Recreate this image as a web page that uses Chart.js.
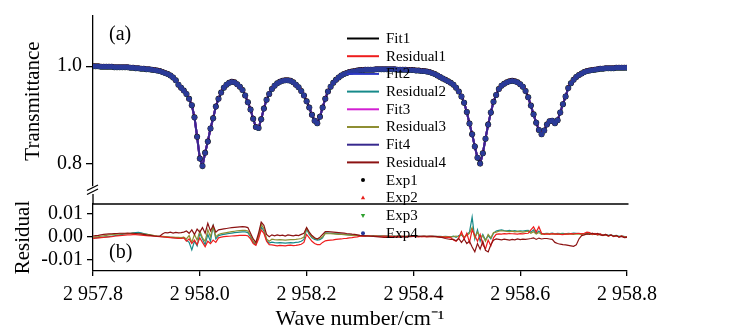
<!DOCTYPE html>
<html>
<head>
<meta charset="utf-8">
<script src="https://cdn.jsdelivr.net/npm/chart.js@4/dist/chart.umd.min.js"></script>
<style>
html,body{margin:0;padding:0;background:#fff;}
#wrap{position:relative;width:738px;height:332px;background:#fff;}
#wrap canvas{position:absolute;left:0;top:0;}
</style>
</head>
<body>
<div id="wrap">
<canvas id="residChart" width="738" height="332"></canvas>
<canvas id="transChart" width="738" height="332"></canvas>
</div>
<script>
// ---------------- DATA ----------------
const waveNumbers = [
2957.8,2957.805,2957.81,2957.815,2957.82,2957.825,2957.83,2957.835,2957.84,2957.845,
2957.85,2957.855,2957.86,2957.865,2957.87,2957.875,2957.88,2957.885,2957.89,2957.895,
2957.9,2957.905,2957.91,2957.915,2957.92,2957.925,2957.93,2957.935,2957.94,2957.945,
2957.95,2957.955,2957.96,2957.965,2957.97,2957.975,2957.98,2957.985,2957.99,2957.995,
2958,2958.005,2958.01,2958.015,2958.02,2958.025,2958.03,2958.035,2958.04,2958.045,
2958.05,2958.055,2958.06,2958.065,2958.07,2958.075,2958.08,2958.085,2958.09,2958.095,
2958.1,2958.105,2958.11,2958.115,2958.12,2958.125,2958.13,2958.135,2958.14,2958.145,
2958.15,2958.155,2958.16,2958.165,2958.17,2958.175,2958.18,2958.185,2958.19,2958.195,
2958.2,2958.205,2958.21,2958.215,2958.22,2958.225,2958.23,2958.235,2958.24,2958.245,
2958.25,2958.255,2958.26,2958.265,2958.27,2958.275,2958.28,2958.285,2958.29,2958.295,
2958.3,2958.305,2958.31,2958.315,2958.32,2958.325,2958.33,2958.335,2958.34,2958.345,
2958.35,2958.355,2958.36,2958.365,2958.37,2958.375,2958.38,2958.385,2958.39,2958.395,
2958.4,2958.405,2958.41,2958.415,2958.42,2958.425,2958.43,2958.435,2958.44,2958.445,
2958.45,2958.455,2958.46,2958.465,2958.47,2958.475,2958.48,2958.485,2958.49,2958.495,
2958.5,2958.505,2958.51,2958.515,2958.52,2958.525,2958.53,2958.535,2958.54,2958.545,
2958.55,2958.555,2958.56,2958.565,2958.57,2958.575,2958.58,2958.585,2958.59,2958.595,
2958.6,2958.605,2958.61,2958.615,2958.62,2958.625,2958.63,2958.635,2958.64,2958.645,
2958.65,2958.655,2958.66,2958.665,2958.67,2958.675,2958.68,2958.685,2958.69,2958.695,
2958.7,2958.705,2958.71,2958.715,2958.72,2958.725,2958.73,2958.735,2958.74,2958.745,
2958.75,2958.755,2958.76,2958.765,2958.77,2958.775,2958.78,2958.785,2958.79,2958.795,
2958.8];

// measured transmittance (Exp1..Exp4 and Fit1..Fit4 coincide at this scale)
const transmittance = [
1.000,1.000,1.000,0.999,0.999,0.999,0.999,0.999,0.998,0.998,
0.998,0.998,0.998,0.998,0.997,0.997,0.996,0.996,0.995,0.995,
0.994,0.994,0.993,0.992,0.991,0.990,0.988,0.986,0.984,0.981,
0.977,0.971,0.962,0.956,0.950,0.943,0.933,0.920,0.895,0.855,
0.810,0.795,0.822,0.845,0.872,0.893,0.917,0.933,0.946,0.956,
0.962,0.966,0.968,0.967,0.963,0.958,0.951,0.940,0.926,0.911,
0.892,0.875,0.873,0.891,0.913,0.931,0.943,0.953,0.960,0.965,
0.968,0.970,0.971,0.971,0.970,0.967,0.962,0.957,0.949,0.940,
0.928,0.915,0.900,0.888,0.883,0.896,0.915,0.933,0.948,0.958,
0.966,0.972,0.977,0.981,0.984,0.986,0.988,0.989,0.990,0.991,
0.992,0.992,0.993,0.993,0.993,0.993,0.994,0.994,0.994,0.994,
0.994,0.994,0.994,0.994,0.993,0.993,0.993,0.993,0.992,0.992,
0.992,0.991,0.991,0.990,0.990,0.989,0.988,0.986,0.984,0.981,
0.978,0.975,0.972,0.969,0.966,0.962,0.956,0.948,0.938,0.925,
0.906,0.882,0.860,0.835,0.812,0.800,0.821,0.851,0.880,0.905,
0.927,0.941,0.953,0.960,0.964,0.967,0.969,0.970,0.969,0.967,
0.963,0.958,0.949,0.936,0.919,0.901,0.884,0.869,0.860,0.868,
0.880,0.887,0.888,0.883,0.889,0.905,0.922,0.938,0.955,0.965,
0.972,0.978,0.982,0.985,0.988,0.990,0.991,0.992,0.993,0.994,
0.995,0.995,0.996,0.996,0.996,0.996,0.997,0.997,0.997,0.997,
0.997];

const residual1 = [
-0.0007,-0.0006,-0.0005,-0.0004,-0.0003,-0.0002,-0.0001,
0,0.0002,0.0004,0.0005,0.0006,0.0007,0.0008,0.0008,0.0009,
0.0009,0.0008,0.0007,0.0006,0.0005,0.0004,0.0003,0.0002,0.0001,
0,-0.0001,-0.0002,-0.0003,-0.0004,-0.0005,-0.0006,-0.0007,-0.0008,
-0.0005,-0.002,-0.001,-0.003,-0.0015,-0.0035,-0.0005,-0.0025,-0.0044,-0.002,-0.003,
-0.0015,-0.0025,-0.0005,
-0.0002,0,0.0001,0.0002,0.0003,0.0004,0.0005,0.0006,0.0006,0.0006,
0.0004,-0.001,-0.003,-0.0038,
-0.001,0.003,0.0015,-0.002,-0.0035,
-0.0036,-0.0038,-0.004,-0.0038,-0.0039,-0.004,-0.0038,-0.0037,-0.0039,-0.0038,-0.0036,-0.0033,-0.0025,
0.001,-0.0005,-0.002,
-0.003,-0.0035,-0.0035,-0.0025,
-0.0018,-0.0016,-0.0015,-0.0014,-0.0012,-0.0011,-0.001,-0.0008,-0.0007,-0.0005,-0.0004,-0.0002,-0.0001,
0.0002,0.0003,0.0002,0.0004,0.0003,0.0002,0.0003,0.0001,0.0002,0.0003,0.0002,0.0001,0.0002,0,0.0001,0.0002,0.0001,0,0.0001,0.0002,0.0001,0,-0.0001,0.0001,0,-0.0001,0,0.0001,0,-0.0001,-0.0002,-0.0001,-0.0003,-0.0002,-0.0004,
-0.0015,-0.002,-0.0005,0.0022,-0.001,0.0015,-0.0025,0.003,0.0005,-0.002,0.001,-0.0035,-0.0053,-0.0015,-0.004,-0.0005,
0.001,0.0012,0.0011,0.0013,0.0012,0.0014,0.0013,0.0012,0.0011,0.0013,0.0012,0.0014,0.0015,
0.003,0.0043,0.002,0.0044,0.0015,0.001,
0.0012,0.001,0.0013,0.0011,0.0012,0.001,0.0009,0.0012,0.0011,0.0013,0.0012,0.0014,0.0015,
0.0012,0.0015,0.002,0.0018,0.001,0.0014,0.0008,0.0012,0.0005,0.001,0.0003,0.0008,0,0.0005,-0.0002,0.0003,-0.0003,-0.0001];

const residual2 = [
-0.0006,-0.0005,-0.0004,-0.0003,-0.0002,-0.0001,0,
0.0002,0.0004,0.0006,0.0008,0.001,0.0012,0.0013,0.0015,0.0017,
0.0018,0.0019,0.0017,0.0014,0.0011,0.0008,0.0006,0.0004,0.0002,
0.0001,0,-0.0001,-0.0002,-0.0003,-0.0004,-0.0005,-0.0006,-0.0007,
-0.0003,-0.0015,-0.0025,-0.0058,-0.002,-0.004,0.0015,-0.001,-0.0035,0.001,-0.002,
0.0047,-0.001,0.0005,
0.0008,0.001,0.0012,0.0014,0.0016,0.0018,0.0019,0.002,0.0021,0.0021,
0.0018,0,-0.0025,-0.0034,
0,0.0043,0.0025,-0.0015,-0.0028,
-0.0024,-0.0026,-0.0027,-0.0026,-0.0027,-0.0028,-0.0027,-0.0026,-0.0027,-0.0025,-0.0024,-0.002,-0.0012,
0.0033,0.001,-0.0005,
-0.0012,-0.0015,-0.0013,-0.0005,
0.0017,0.0016,0.0015,0.0014,0.0013,0.0012,0.0011,0.001,0.0009,0.0008,0.0007,0.0006,0.0006,
0.0005,0.0004,0.0005,0.0003,0.0004,0.0005,0.0003,0.0004,0.0004,0.0003,0.0004,0.0002,0.0003,0.0003,0.0002,0.0003,0.0002,0.0001,0.0002,0.0003,0.0002,0.0001,0.0002,0.0001,0.0002,0,0.0001,0.0002,0.0001,0,0.0001,0,0.0001,0,-0.0001,
0.0002,-0.0003,0.0005,0.0008,-0.0005,0.001,0.002,0.0086,-0.001,0.003,-0.002,0.001,-0.0015,0.0005,-0.001,0.0015,
0.0025,0.0028,0.003,0.0027,0.0026,0.0028,0.0025,0.0027,0.0024,0.0026,0.0025,0.0027,0.0028,
0.002,0.003,0.0015,0.0025,0.0012,0.0014,
0.0015,0.0014,0.0016,0.0013,0.0015,0.0014,0.0015,0.0013,0.0015,0.0014,0.0016,0.0015,0.0014,
0.0012,0.0014,0.0012,0.0015,0.0011,0.0013,0.0009,0.0011,0.0007,0.0009,0.0006,0.0008,0.0004,0.0006,0.0002,0.0003,0.0001,0];

const residual3 = [
-0.0002,-0.0001,0,0.0002,0.0004,0.0006,0.0008,
0.0009,0.001,0.0011,0.0012,0.0013,0.0013,0.0014,0.0014,0.0015,
0.0014,0.0013,0.0012,0.0011,0.001,0.0009,0.0007,0.0005,0.0003,
0.0002,0.0001,0,-0.0001,-0.0002,-0.0002,-0.0003,-0.0003,-0.0004,
-0.0002,-0.001,0.0005,-0.0025,0.001,-0.0015,0.0025,-0.0005,-0.002,0.003,0,
0.0045,0,0.001,
0.0014,0.0016,0.0018,0.002,0.0022,0.0024,0.0026,0.0027,0.0028,0.0028,
0.0025,0.0005,-0.002,-0.003,
0.0005,0.0055,0.0035,-0.001,-0.002,
-0.0011,-0.0013,-0.0014,-0.0013,-0.0014,-0.0015,-0.0014,-0.0013,-0.0013,-0.0012,-0.001,-0.0008,-0.0002,
0.0038,0.0015,0,
-0.0008,-0.001,-0.0008,0,
0.0014,0.0013,0.0013,0.0012,0.0011,0.001,0.001,0.0009,0.0008,0.0007,0.0006,0.0006,0.0005,
0.0004,0.0004,0.0003,0.0004,0.0003,0.0003,0.0004,0.0002,0.0003,0.0003,0.0002,0.0003,0.0002,0.0002,0.0003,0.0001,0.0002,0.0002,0.0001,0.0002,0.0001,0.0001,0.0002,0,0.0001,0.0001,0,0.0001,0,0.0001,0,-0.0001,0,-0.0001,-0.0001,
0,0.0003,-0.0002,0.001,0,0.0005,0.0015,0.004,-0.0005,0.002,0,0.0005,-0.002,0.001,-0.0005,0.0018,
0.002,0.0024,0.0026,0.0025,0.0023,0.0022,0.0024,0.0021,0.0023,0.0022,0.002,0.0022,0.0024,
0.0015,0.0022,0.0012,0.0018,0.001,0.0012,
0.0012,0.0013,0.0011,0.0012,0.001,0.0012,0.0011,0.001,0.0012,0.0011,0.001,0.0012,0.0011,
0.001,0.0012,0.0011,0.0013,0.0009,0.0011,0.0008,0.001,0.0006,0.0008,0.0004,0.0007,0.0002,0.0005,0,0.0003,-0.0001,-0.0002];

const residual4 = [
0.0003,0.0005,0.0006,0.0008,0.001,0.0011,0.0012,
0.0013,0.0014,0.0014,0.0015,0.0015,0.0015,0.0016,0.0015,0.0015,
0.0014,0.0013,0.0012,0.001,0.0008,0.0007,0.0005,0.0003,0.0002,
0.0002,0.0012,0.0018,0.0017,0.002,0.0016,0.0019,0.0017,0.0018,
0.002,0.0025,0.0015,0.003,0.001,0.0033,0.002,0.004,0.0015,0.0059,0.0025,
0.005,0.002,0.003,
0.0032,0.0034,0.0036,0.0038,0.004,0.0041,0.0042,0.0043,0.0044,0.0043,
0.004,0.0015,-0.001,-0.0025,
0.0015,0.0064,0.005,0.001,0,
0.0008,0.0004,0.0008,0.0005,0.0007,0.0003,0.0008,0.0006,0.0004,0.0007,0.0005,0.001,0.0015,
0.004,0.002,0.0005,
-0.0005,-0.001,-0.0002,0.001,
0.0022,0.0022,0.0021,0.002,0.0019,0.0018,0.0017,0.0016,0.0014,0.0013,0.0011,0.001,0.0008,
0.0006,0.0005,0.0004,0.0003,0.0002,0.0001,0,-0.0001,-0.0002,-0.0003,-0.0003,-0.0002,-0.0003,-0.0002,-0.0001,-0.0002,0,-0.0001,0.0001,0,0.0001,0.0002,0.0001,0.0002,0.0003,0.0002,0.0003,0.0001,0.0002,0,-0.0002,-0.0004,-0.0008,-0.001,-0.0012,
-0.0012,-0.0018,-0.0008,-0.0025,-0.001,-0.003,-0.002,-0.0045,-0.0066,-0.003,-0.0055,-0.002,-0.006,-0.0067,-0.0035,-0.0015,
-0.001,-0.0012,-0.0014,-0.0011,-0.0013,-0.0015,-0.0012,-0.0014,-0.001,-0.0013,-0.0011,-0.0012,-0.001,
-0.0008,-0.0005,-0.0012,-0.0006,-0.001,-0.0008,
-0.0008,-0.001,-0.0012,-0.0025,-0.003,-0.0033,-0.0035,-0.0036,-0.0038,-0.004,-0.0042,-0.0036,-0.001,
0.0005,0.0008,0.0012,0.001,0.0015,0.001,0.0014,0.0008,0.0006,0.001,0.0004,0.0007,0.0002,0.0005,-0.0002,0.0001,-0.0004,-0.0003];

// tick values and labels
const waveTicks = [2957.8, 2958.0, 2958.2, 2958.4, 2958.6, 2958.8];
const waveTickLabels = ['2 957.8', '2 958.0', '2 958.2', '2 958.4', '2 958.6', '2 958.8'];
const transTicks = [0.8, 1.0];
const transTickLabels = ['0.8', '1.0'];
const residTicks = [-0.01, 0, 0.01];
const residTickLabels = ['-0.01', '0.00', '0.01'];

// legend entries (in the order shown)
const legendNames = ['Fit1','Residual1','Fit2','Residual2','Fit3','Residual3','Fit4','Residual4','Exp1','Exp2','Exp3','Exp4'];

// ---------------- STYLE ----------------
const FONT = "'Liberation Serif','Times New Roman',serif";
const styles = {
  Fit1:{color:'#000000'}, Residual1:{color:'#ee1d1d'},
  Fit2:{color:'#2b36c4'}, Residual2:{color:'#178a8a'},
  Fit3:{color:'#d21fd2'}, Residual3:{color:'#8e8e32'},
  Fit4:{color:'#37298e'}, Residual4:{color:'#8c1212'},
  Exp1:{color:'#000000', point:'circle', rot:0},
  Exp2:{color:'#e8201c', point:'triangle', rot:0},
  Exp3:{color:'#2ea02e', point:'triangle', rot:180},
  Exp4:{color:'#2a3a98', point:'circle', rot:0}
};

Chart.defaults.font.family = FONT;
Chart.defaults.color = '#000';

function drawMarker(ctx, kind, rot, cx, cy, r, color){
  ctx.save();
  ctx.fillStyle = color; ctx.strokeStyle = color;
  ctx.translate(cx, cy); ctx.rotate(rot*Math.PI/180);
  ctx.beginPath();
  if (kind === 'triangle') {
    ctx.moveTo(0, -r*1.2); ctx.lineTo(r*1.1, r*0.7); ctx.lineTo(-r*1.1, r*0.7); ctx.closePath();
  } else {
    ctx.arc(0, 0, r, 0, Math.PI*2);
  }
  ctx.fill();
  ctx.restore();
}

const topDecor = {
  id:'topDecor',
  afterDraw(chart){
    const ctx = chart.ctx, a = chart.chartArea;
    ctx.save();
    ctx.font = '20px ' + FONT; ctx.fillStyle = '#000';
    ctx.textAlign = 'left'; ctx.textBaseline = 'middle';
    ctx.fillText('(a)', a.left + 16, 35);
    ctx.strokeStyle = '#000'; ctx.lineWidth = 1.3;
    ctx.beginPath();
    ctx.moveTo(a.left - 6, a.bottom + 4.5); ctx.lineTo(a.left + 5, a.bottom - 1);
    ctx.moveTo(a.left - 6, a.bottom + 8.5); ctx.lineTo(a.left + 5, a.bottom + 3);
    ctx.stroke();
    ctx.font = '15px ' + FONT;
    legendNames.forEach((name, i) => {
      const y = 38.5 + i * 17.7;
      const st = styles[name];
      if (st.point) {
        drawMarker(ctx, st.point, st.rot, 363, y, 2, st.color);
      } else {
        ctx.strokeStyle = st.color; ctx.lineWidth = 2;
        ctx.beginPath(); ctx.moveTo(347, y); ctx.lineTo(379, y); ctx.stroke();
      }
      ctx.fillStyle = '#000';
      ctx.fillText(name, 386, y + 0.5);
    });
    ctx.restore();
  }
};

const bottomDecor = {
  id:'bottomDecor',
  afterDraw(chart){
    const ctx = chart.ctx, a = chart.chartArea;
    ctx.save();
    ctx.strokeStyle = '#000'; ctx.lineWidth = 1.3;
    ctx.beginPath();
    ctx.moveTo(a.left, a.top); ctx.lineTo(a.right + 1.5, a.top);
    ctx.moveTo(a.left, a.top - 10); ctx.lineTo(a.left, a.top);
    ctx.stroke();
    ctx.font = '20px ' + FONT; ctx.fillStyle = '#000';
    ctx.textAlign = 'left'; ctx.textBaseline = 'middle';
    ctx.fillText('(b)', a.left + 16, 253);
    ctx.restore();
  }
};

function fixedTicks(values){ return s => { s.ticks = values.map(v => ({value:v})); }; }
function tickLabel(values, labels){ return (v) => { const i = values.findIndex(t => Math.abs(t - v) < 1e-9); return i >= 0 ? labels[i] : ''; }; }

// ---------------- TOP PANEL ----------------
const expSets = ['Exp4','Exp3','Exp2','Exp1'].map(name => ({
  label: name, data: transmittance, showLine: false,
  pointStyle: styles[name].point, rotation: styles[name].rot,
  pointRadius: name === 'Exp4' ? 2.6 : 3.0, pointBorderWidth: 0,
  backgroundColor: styles[name].color, borderColor: styles[name].color
}));
const fitSets = ['Fit4','Fit3','Fit2','Fit1'].map(name => ({
  label: name, data: transmittance, pointRadius: 0, borderWidth: 2,
  borderColor: styles[name].color, backgroundColor: styles[name].color, tension: 0
}));

new Chart(document.getElementById('transChart'), {
  type: 'line',
  data: { labels: waveNumbers, datasets: [...expSets, ...fitSets] },
  options: {
    responsive: false, animation: false, events: [],
    layout: { padding: { left: 0, right: 111, top: 10, bottom: 146 } },
    plugins: { legend: { display: false }, tooltip: { enabled: false } },
    scales: {
      x: { type: 'linear', min: 2957.8, max: 2958.8, display: false },
      y: {
        min: 0.7537, max: 1.1033,
        afterBuildTicks: fixedTicks(transTicks),
        afterFit: s => { s.width = 93; },
        ticks: { callback: tickLabel(transTicks, transTickLabels), font: { size: 20 }, padding: 4, color: '#000' },
        grid: { drawOnChartArea: false, drawTicks: true, tickLength: 7, color: '#000', lineWidth: 1.3 },
        border: { display: true, color: '#000', width: 1.3 },
        title: { display: true, text: 'Transmittance', font: { size: 21 }, color: '#000', padding: { top: 21, bottom: 0 } }
      }
    }
  },
  plugins: [topDecor]
});

// ---------------- BOTTOM PANEL ----------------
const residSets = [['Residual4', residual4], ['Residual1', residual1], ['Residual3', residual3], ['Residual2', residual2]].map(([name, arr]) => ({
  label: name, data: arr, pointRadius: 0, borderWidth: 1.2,
  borderColor: styles[name].color, backgroundColor: styles[name].color, tension: 0
}));

new Chart(document.getElementById('residChart'), {
  type: 'line',
  data: { labels: waveNumbers, datasets: residSets },
  options: {
    responsive: false, animation: false, events: [],
    layout: { padding: { left: 0, right: 111, top: 204, bottom: 0 } },
    plugins: { legend: { display: false }, tooltip: { enabled: false } },
    scales: {
      x: {
        type: 'linear', min: 2957.8, max: 2958.8,
        afterBuildTicks: fixedTicks(waveTicks),
        afterFit: s => { s.height = 61; },
        ticks: { callback: tickLabel(waveTicks, waveTickLabels), font: { size: 20 }, padding: 7, maxRotation: 0, autoSkip: false, color: '#000' },
        grid: { drawOnChartArea: false, drawTicks: true, tickLength: 5, color: '#000', lineWidth: 1.3 },
        border: { display: true, color: '#000', width: 1.3 },
        title: { display: true, text: 'Wave number/cm\u207B\u00B9', font: { size: 22 }, color: '#000', padding: { top: 0, bottom: 0 } }
      },
      y: {
        min: -0.01505, max: 0.01434,
        afterBuildTicks: fixedTicks(residTicks),
        afterFit: s => { s.width = 93; },
        ticks: { callback: tickLabel(residTicks, residTickLabels), font: { size: 20 }, padding: 4, color: '#000' },
        grid: { drawOnChartArea: false, drawTicks: true, tickLength: 6, color: '#000', lineWidth: 1.3 },
        border: { display: true, color: '#000', width: 1.3 },
        title: { display: true, text: 'Residual', font: { size: 21 }, color: '#000', padding: { top: 11, bottom: 0 } }
      }
    }
  },
  plugins: [bottomDecor]
});
</script>
</body>
</html>
